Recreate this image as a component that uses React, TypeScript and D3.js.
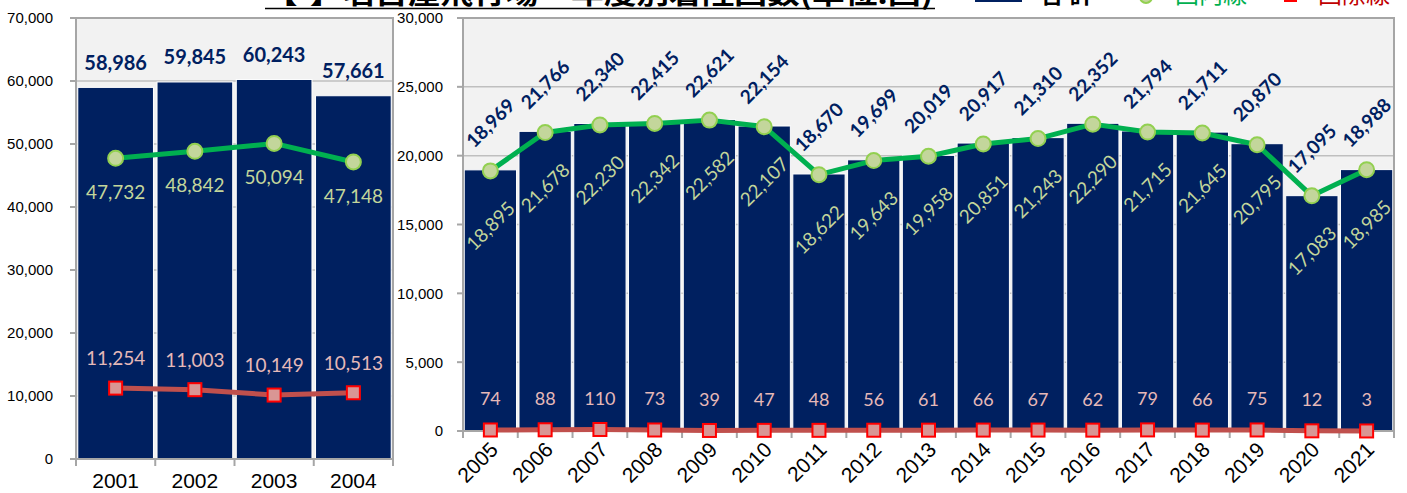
import React from "react";
import * as d3 from "d3";

const years1 = ["2001", "2002", "2003", "2004"];
const total1 = [58986, 59845, 60243, 57661];
const dom1 = [47732, 48842, 50094, 47148];
const intl1 = [11254, 11003, 10149, 10513];

const years2 = ["2005", "2006", "2007", "2008", "2009", "2010", "2011", "2012", "2013", "2014", "2015", "2016", "2017", "2018", "2019", "2020", "2021"];
const total2 = [18969, 21766, 22340, 22415, 22621, 22154, 18670, 19699, 20019, 20917, 21310, 22352, 21794, 21711, 20870, 17095, 18988];
const dom2 = [18895, 21678, 22230, 22342, 22582, 22107, 18622, 19643, 19958, 20851, 21243, 22290, 21715, 21645, 20795, 17083, 18985];
const intl2 = [74, 88, 110, 73, 39, 47, 48, 56, 61, 66, 67, 62, 79, 66, 75, 12, 3];

const ticks1 = [0, 10000, 20000, 30000, 40000, 50000, 60000, 70000];
const ticks2 = [0, 5000, 10000, 15000, 20000, 25000, 30000];

const TITLE = "【-】名古屋飛行場・年度別着陸回数(単位:回)";
const LEGEND = ["合 計", "国内線", "国際線"];

const NAVY = "#002060";
const GREEN = "#00b050";
const LGREEN = "#c3d69b";
const RED = "#c0504d";
const PINK = "#e6b9b8";
const AXIS_FONT = "'Liberation Sans', Arial, sans-serif";
const LABEL_FONT = "Lato, 'Open Sans', sans-serif";
const fmt = d3.format(",");

type PanelProps = {
  years: string[];
  total: number[];
  dom: number[];
  intl: number[];
  ticks: number[];
  max: number;
  x0: number;
  x1: number;
  yTop: number;
  yBot: number;
  labelRight: number;
  rotated: boolean;
};

function Panel(p: PanelProps) {
  const x = d3.scaleBand<string>().domain(p.years).range([p.x0, p.x1]).paddingInner(0.045).paddingOuter(0.02);
  const y = d3.scaleLinear().domain([0, p.max]).range([p.yBot, p.yTop]);
  const step = x.step();
  const bandStart = (i: number) => p.x0 + i * ((p.x1 - p.x0) / p.years.length);
  const bw = (p.x1 - p.x0) / p.years.length;
  const cx = (i: number) => bandStart(i) + bw / 2;
  const barW = bw * 0.955;
  const greenLine = d3.line<number>().x((_, i) => cx(i)).y((d) => y(d));
  const redLine = d3.line<number>().x((_, i) => cx(i)).y((d) => y(d));
  return (
    <g>
      <rect x={p.x0} y={p.yTop} width={p.x1 - p.x0} height={p.yBot - p.yTop} fill="#f2f2f2" />
      {p.ticks.map((t) => (
        <line key={"g" + t} x1={p.x0} x2={p.x1} y1={y(t)} y2={y(t)} stroke="#bfbfbf" strokeWidth={1.5} />
      ))}
      {p.total.map((v, i) => (
        <rect key={"b" + i} x={cx(i) - barW / 2} y={y(v)} width={barW} height={p.yBot - y(v)} fill={NAVY} stroke="#ffffff" strokeWidth={1} />
      ))}
      <rect x={p.x0} y={p.yTop} width={p.x1 - p.x0} height={p.yBot - p.yTop} fill="none" stroke="#a6a6a6" strokeWidth={2} />
      {p.ticks.map((t) => (
        <g key={"t" + t}>
          <line x1={p.x0 - 6} x2={p.x0} y1={y(t)} y2={y(t)} stroke="#a6a6a6" strokeWidth={2} />
          <text x={p.labelRight} y={y(t)} dy="0.36em" textAnchor="end" fontFamily={AXIS_FONT} fontSize={15} fill="#000">
            {fmt(t)}
          </text>
        </g>
      ))}
      {p.years.map((yr, i) => (
        <line key={"xt" + i} x1={bandStart(i)} x2={bandStart(i)} y1={p.yBot} y2={p.yBot + 7} stroke="#a6a6a6" strokeWidth={2} />
      ))}
      <line x1={p.x1} x2={p.x1} y1={p.yBot} y2={p.yBot + 7} stroke="#a6a6a6" strokeWidth={2} />
      {p.years.map((yr, i) =>
        p.rotated ? (
          <text key={"xl" + i} transform={`translate(${cx(i) + 9},${p.yBot + 20}) rotate(-45)`} textAnchor="end" fontFamily={AXIS_FONT} fontSize={21} fill="#000">
            {yr}
          </text>
        ) : (
          <text key={"xl" + i} x={cx(i)} y={p.yBot + 29} textAnchor="middle" fontFamily={AXIS_FONT} fontSize={21} fill="#000">
            {yr}
          </text>
        )
      )}
      <path d={redLine(p.intl) || ""} fill="none" stroke={RED} strokeWidth={5} strokeLinejoin="round" />
      <path d={greenLine(p.dom) || ""} fill="none" stroke={GREEN} strokeWidth={5} strokeLinejoin="round" />
      {p.intl.map((v, i) => (
        <rect key={"rm" + i} x={cx(i) - 6.5} y={y(v) - 6.5} width={13} height={13} fill="#d99694" stroke="#ff0000" strokeWidth={2} />
      ))}
      {p.dom.map((v, i) => (
        <circle key={"gm" + i} cx={cx(i)} cy={y(v)} r={7.5} fill={LGREEN} stroke="#92d050" strokeWidth={2} />
      ))}
      {p.total.map((v, i) =>
        p.rotated ? (
          <text key={"tl" + i} transform={`translate(${cx(i)},${y(v) - 47}) rotate(-45)`} textAnchor="middle" dy="0.36em" fontFamily={LABEL_FONT} fontWeight="bold" fontSize={19} fill={NAVY}>
            {fmt(v)}
          </text>
        ) : (
          <text key={"tl" + i} x={cx(i)} y={y(v) - 25} dy="0.36em" textAnchor="middle" fontFamily={LABEL_FONT} fontWeight="bold" fontSize={20} fill={NAVY}>
            {fmt(v)}
          </text>
        )
      )}
      {p.dom.map((v, i) =>
        p.rotated ? (
          <text key={"dl" + i} transform={`translate(${cx(i)},${y(v) + 55}) rotate(-45)`} textAnchor="middle" dy="0.36em" fontFamily={LABEL_FONT} fontSize={19} fill={LGREEN}>
            {fmt(v)}
          </text>
        ) : (
          <text key={"dl" + i} x={cx(i)} y={y(v) + 34} dy="0.36em" textAnchor="middle" fontFamily={LABEL_FONT} fontSize={19} fill={LGREEN}>
            {fmt(v)}
          </text>
        )
      )}
      {p.intl.map((v, i) => (
        <text key={"il" + i} x={cx(i)} y={y(v) - (p.rotated ? 31 : 30)} dy="0.36em" textAnchor="middle" fontFamily={LABEL_FONT} fontSize={p.rotated ? 18 : 19} fill={PINK}>
          {fmt(v)}
        </text>
      ))}
    </g>
  );
}

export default function App() {
  return (
    <svg width={1407} height={493} style={{ position: "absolute", left: 0, top: 0, background: "#fff" }}>
      <Panel years={years1} total={total1} dom={dom1} intl={intl1} ticks={ticks1} max={70000} x0={76} x1={393} yTop={18} yBot={459} labelRight={53} rotated={false} />
      <Panel years={years2} total={total2} dom={dom2} intl={intl2} ticks={ticks2} max={30000} x0={463} x1={1394} yTop={18} yBot={431} labelRight={443} rotated={true} />
      <text x={265} y={4} fontFamily="'Noto Sans CJK JP', sans-serif" fontWeight="bold" fontSize={28} textLength={668} lengthAdjust="spacingAndGlyphs" fill="#000">
        {TITLE}
      </text>
      <line x1={265} x2={935} y1={8.5} y2={8.5} stroke="#000" strokeWidth={1.6} />
      <rect x={975} y={-12} width={47} height={14} fill={NAVY} />
      <text x={1040} y={3} fontFamily="'Noto Sans CJK JP', sans-serif" fontWeight="bold" fontSize={24} fill="#000">
        {LEGEND[0]}
      </text>
      <circle cx={1146} cy={-3} r={6} fill={LGREEN} stroke="#92d050" strokeWidth={2} />
      <text x={1175} y={3} fontFamily="'Noto Sans CJK JP', sans-serif" fontSize={24} fill={GREEN}>
        {LEGEND[1]}
      </text>
      <rect x={1284} y={-10} width={13} height={12} fill="#ff0000" />
      <text x={1318} y={3} fontFamily="'Noto Sans CJK JP', sans-serif" fontSize={24} fill="#c00000">
        {LEGEND[2]}
      </text>
    </svg>
  );
}
